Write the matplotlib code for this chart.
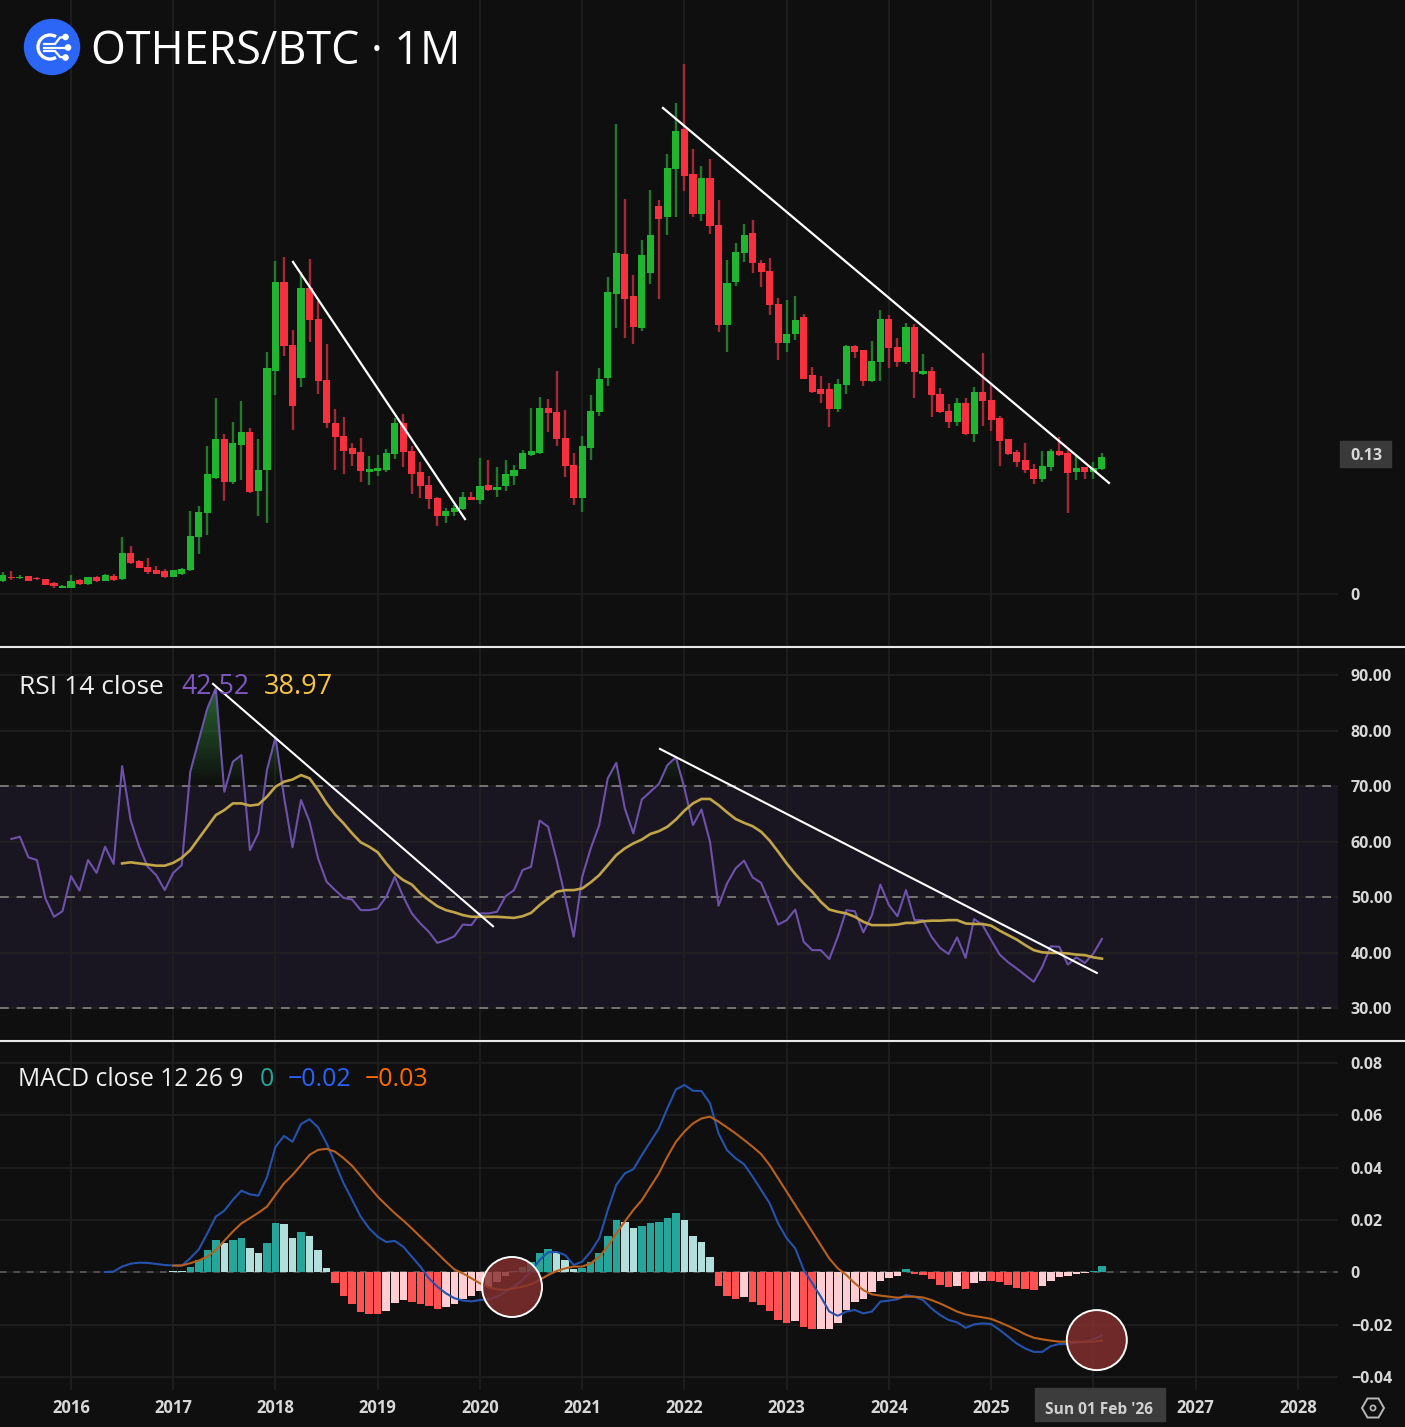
import numpy as np
import matplotlib
matplotlib.use("Agg")
import matplotlib.pyplot as plt
from matplotlib.patches import Circle, Ellipse, Rectangle, RegularPolygon, Arc
from matplotlib.path import Path

plt.rcParams['font.family'] = ['Open Sans', 'DejaVu Sans']

# months counted from Jan 2016, first candle is May 2015
month_idx = np.arange(-8, 122)

open_ = [.012,.016,.015,.017,.015,.014,.010,.006,
         .006,.013,.009,.016,.012,.017,.014,.038,.031,.025,.022,.021,
         .016,.019,.022,.053,.075,.108,.144,.104,.138,.150,.096,.115,
         .207,.290,.231,.201,.284,.255,.199,.159,.147,.136,.132,.113,
         .114,.115,.130,.159,.133,.113,.101,.089,.072,.076,.079,.090,
         .087,.101,.097,.100,.110,.116,.129,.131,.173,.169,.145,.120,
         .089,.136,.169,.201,.279,.316,.277,.247,.298,.360,.350,.395,
         .432,.390,.353,.386,.343,.250,.290,.317,.335,.307,.300,.269,
         .233,.241,.257,.203,.190,.190,.172,.194,.230,.227,.198,.215,
         .255,.229,.215,.248,.204,.207,.186,.170,.160,.177,.149,.188,
         .180,.163,.144,.132,.124,.116,.107,.118,.133,.131,.113,.118,
         .113,.116]
high = [.020,.021,.018,.017,.016,.014,.011,.008,
        .018,.014,.016,.017,.019,.019,.053,.045,.032,.033,.026,.023,
        .022,.024,.077,.082,.137,.182,.149,.160,.179,.154,.144,.225,
        .309,.313,.245,.299,.311,.272,.232,.172,.164,.140,.145,.128,
        .129,.135,.163,.167,.137,.123,.110,.090,.080,.083,.095,.095,
        .126,.124,.118,.124,.120,.134,.173,.183,.181,.207,.171,.131,
        .147,.185,.210,.294,.436,.367,.296,.329,.375,.366,.409,.456,
        .492,.413,.397,.404,.366,.310,.326,.344,.347,.310,.312,.275,
        .273,.277,.260,.211,.202,.196,.200,.231,.231,.227,.235,.264,
        .259,.238,.252,.251,.223,.211,.191,.176,.182,.182,.192,.224,
        .196,.165,.144,.134,.140,.121,.133,.135,.146,.134,.128,.118,
        .123,.131]
low = [.011,.013,.014,.012,.013,.008,.006,.006,
       .006,.008,.008,.011,.012,.012,.013,.028,.024,.019,.019,.015,
       .016,.018,.021,.037,.055,.107,.086,.102,.106,.094,.072,.066,
       .185,.221,.152,.192,.234,.186,.154,.115,.111,.119,.104,.101,
       .110,.113,.125,.118,.093,.089,.079,.063,.066,.072,.078,.087,
       .084,.096,.090,.096,.101,.116,.128,.130,.150,.137,.109,.083,
       .076,.124,.165,.193,.247,.238,.232,.244,.288,.274,.333,.350,
       .374,.350,.346,.334,.243,.225,.286,.308,.298,.285,.259,.217,
       .225,.236,.200,.187,.177,.155,.169,.186,.219,.193,.197,.198,
       .210,.211,.214,.182,.203,.164,.168,.154,.156,.148,.141,.156,
       .151,.119,.129,.118,.112,.102,.104,.114,.128,.075,.106,.107,
       .107,.115]
close = [.018,.015,.016,.012,.014,.008,.007,.007,
         .012,.009,.016,.012,.018,.013,.038,.029,.024,.020,.019,.016,
         .022,.023,.054,.076,.111,.144,.104,.140,.150,.095,.115,.210,
         .290,.230,.175,.284,.254,.198,.159,.146,.133,.130,.114,.116,
         .117,.131,.159,.132,.111,.100,.088,.072,.077,.080,.090,.087,
         .100,.097,.099,.111,.115,.131,.133,.173,.168,.144,.119,.089,
         .137,.170,.200,.280,.317,.274,.248,.315,.333,.348,.396,.430,
         .388,.353,.386,.342,.250,.289,.318,.333,.307,.299,.268,.233,
         .241,.254,.200,.188,.186,.172,.195,.230,.225,.198,.216,.255,
         .228,.215,.248,.206,.207,.185,.169,.160,.177,.149,.188,.179,
         .162,.142,.130,.123,.115,.107,.119,.133,.129,.112,.117,.113,
         .117,.127]

rsi_months = np.arange(-7, 122)
rsi = [60.5,60.9,57.2,56.7,49.8,46.5,47.5,
       53.8,51.2,56.7,54.4,59.1,56,73.6,63.9,59.1,55.5,54,51.3,
       54.4,55.8,72.6,78.3,84,87.6,69,74.4,75.6,58.5,61.6,72.9,
       78.8,68.1,59,67.5,63.6,57,52.8,51.3,49.9,49.6,47.7,47.7,
       48,50.1,53.7,50.1,47.1,45.3,43.8,41.8,42.3,43,45.1,45,
       47.1,47.1,47.4,50.2,51.3,54.9,55.5,63.8,62.7,56.7,50.1,42.9,
       53.7,58.8,63,71.4,74.2,66,61.5,67.6,69,70.4,73.8,75.2,
       69.6,63,65.8,60,48.5,52.5,55.2,56.6,53.6,52.6,48.9,45.1,
       45.9,47.8,42,40.5,40.5,38.9,42.9,47.7,47.5,43.7,46.8,52.3,
       48.6,46.6,51.3,45.9,45.9,42.9,40.9,39.8,42.8,39.1,46.1,45,
       42.3,39.7,38.3,37.2,36,34.8,37.5,41.2,41.1,37.9,39.2,38.2,
       39.9,42.52]
rsi_ma_months = np.arange(6, 122)
rsi_ma = [56.1,56.3,56.1,55.9,55.7,55.7,
          56.2,57.1,58.5,60.6,62.7,64.8,65.7,66.9,66.9,66.5,66.7,68.1,
          69.9,70.8,71.2,72,71.4,69.3,66.9,64.9,63.3,61.5,59.9,59.1,
          58.1,56.1,54.3,53.1,52.3,50.7,49.5,48.4,47.7,47.3,46.8,46.5,
          46.5,46.5,46.5,46.4,46.3,46.6,47.2,48.6,49.8,51,51.3,51.3,
          51.6,52.7,54,55.8,57.6,58.8,59.7,60.4,61.4,61.9,62.7,64,
          65.6,66.9,67.7,67.7,66.6,65.3,64.1,63.4,62.8,61.8,60.2,58.2,
          56.1,54.2,52.5,51,49.2,47.8,47.4,47.1,46.5,45.6,45,45,
          45,45.1,45.4,45.4,45.7,45.8,45.8,45.9,45.9,45.3,45.2,45.2,
          44.9,44,43.2,42.4,41.4,40.5,40.1,40,40,39.9,39.7,39.6,
          39.2,38.97]

macd_months = np.arange(4, 122)
macd = [.0001,.0003,.0022,.0033,.0037,.0036,.0032,.0028,
        .0026,.0026,.0054,.0088,.0149,.0213,.0236,.0277,.0312,.0298,.0293,.0363,
        .0480,.0521,.0499,.0567,.0585,.0554,.0493,.0417,.0340,.0277,.0213,.0168,
        .0136,.0116,.0120,.0098,.0060,.0022,-.0023,-.0055,-.0080,-.0099,-.0108,-.0111,
        -.0106,-.0103,-.0093,-.0074,-.0055,-.0029,.0003,.0047,.0077,.0078,.0066,.0028,
        .0041,.0079,.0130,.0238,.0334,.0378,.0394,.0448,.0499,.0550,.0627,.0699,
        .0716,.0694,.0693,.0646,.0531,.0467,.0436,.0413,.0366,.0315,.0264,.0187,
        .0130,.0092,.0009,-.0042,-.0093,-.0150,-.0166,-.0150,-.0144,-.0157,-.0150,-.0112,
        -.0108,-.0103,-.0087,-.0093,-.0106,-.0138,-.0163,-.0182,-.0191,-.0212,-.0199,-.0195,
        -.0198,-.0220,-.0246,-.0272,-.0291,-.0304,-.0304,-.0282,-.0274,-.0274,-.0269,-.0265,
        -.0256,-.0242]
signal_months = np.arange(12, 122)
signal = [.0026,.0026,.0035,.0045,.0060,.0085,.0121,.0156,.0187,.0207,.0228,.0251,
          .0296,.0340,.0372,.0410,.0449,.0468,.0472,.0461,.0436,.0407,.0368,.0328,
          .0289,.0257,.0226,.0198,.0168,.0136,.0105,.0073,.0041,.0011,-.0004,-.0023,
          -.0042,-.0057,-.0065,-.0067,-.0061,-.0055,-.0046,-.0029,-.0010,.0005,.0015,.0022,
          .0022,.0034,.0060,.0098,.0149,.0194,.0238,.0276,.0327,.0378,.0442,.0499,
          .0538,.0569,.0588,.0595,.0576,.0554,.0531,.0506,.0480,.0452,.0410,.0359,
          .0308,.0257,.0206,.0155,.0104,.0053,.0015,-.0010,-.0042,-.0068,-.0084,-.0089,
          -.0093,-.0097,-.0093,-.0093,-.0096,-.0106,-.0119,-.0134,-.0150,-.0161,-.0167,-.0172,
          -.0178,-.0191,-.0205,-.0220,-.0237,-.0250,-.0256,-.0261,-.0265,-.0265,-.0266,-.0265,
          -.0265,-.0261]
hist = [.0006,.0006,.0022,.0047,.0085,.0124,.0113,.0124,.0130,.0092,.0073,.0113,
        .0190,.0183,.0130,.0155,.0140,.0085,.0018,-.0042,-.0090,-.0122,-.0150,-.0159,
        -.0160,-.0148,-.0116,-.0106,-.0112,-.0121,-.0129,-.0139,-.0134,-.0122,-.0103,-.0089,
        -.0070,-.0055,-.0036,-.0014,.0006,.0022,.0041,.0073,.0088,.0076,.0047,.0013,
        .0015,.0041,.0073,.0139,.0200,.0194,.0168,.0178,.0187,.0194,.0209,.0225,
        .0200,.0140,.0115,.0060,-.0052,-.0090,-.0101,-.0096,-.0112,-.0125,-.0148,-.0182,
        -.0192,-.0186,-.0208,-.0218,-.0218,-.0218,-.0195,-.0144,-.0112,-.0102,-.0076,-.0032,
        -.0023,-.0014,.0011,-.0005,-.0010,-.0027,-.0048,-.0057,-.0052,-.0065,-.0042,-.0032,
        -.0033,-.0038,-.0048,-.0059,-.0065,-.0066,-.0052,-.0032,-.0017,-.0014,-.0008,-.0004,
        .0006,.0024]

year_labels = ['2016','2017','2018','2019','2020','2021','2022','2023','2024','2025','','2027','2028']
rsi_ticks = [90, 80, 70, 60, 50, 40, 30]
macd_ticks = [.08, .06, .04, .02, 0, -.02, -.04]
macd_tick_labels = ['0.08','0.06','0.04','0.02','0','\u22120.02','\u22120.04']

# hand drawn trend lines, (month, value) start and end
price_trends = [((26.06, .3083), (46.24, .0696)), ((69.48, .4513), (121.83, .1031))]
rsi_trends = [((16.67, 88.4), (49.53, 44.8)), ((69.13, 76.7), (120.4, 36.4))]
macd_circles = [(51.76, -.0056), (120.4, -.0259)]

# --- layout in pixels ---
W, H = 1405, 1427
PLOT_R = 1338
BG = '#0f0f0f'
GRID = '#212121'
TICK_C = '#d8d8d8'
GREEN, RED = '#20b52e', '#f7303f'
GREEN_W, RED_W = '#22792c', '#a32a35'
m_left = -71 / 8.52
m_right = (PLOT_R - 71) / 8.52


def panel(top, bottom):
    return fig.add_axes([0, 1 - bottom / H, PLOT_R / W, (bottom - top) / H])


fig = plt.figure(figsize=(W / 100, H / 100), dpi=100, facecolor=BG)
ax1 = panel(0, 646)
ax2 = panel(648, 1041)
ax3 = panel(1042, 1390)

year_pos = np.arange(0, 156, 12)
for ax in (ax1, ax2, ax3):
    ax.set_facecolor(BG)
    ax.set_xlim(m_left, m_right)
    for s in ax.spines.values():
        s.set_visible(False)
    ax.set_xticks(year_pos)
    ax.yaxis.tick_right()
    ax.tick_params(axis='y', length=0, pad=9.2, labelcolor=TICK_C, labelsize=11.5)
    ax.tick_params(axis='x', length=0)
    ax.set_axisbelow(True)
    ax.grid(True, color=GRID, lw=1.1)
ax1.tick_params(labelbottom=False)
ax2.tick_params(labelbottom=False)

# --- candles ---
ax1.set_ylim(-52 / 1077, 594 / 1077)
ax1.set_yticks([0], ['0'], fontweight='bold')
o, h, l, c = map(np.array, (open_, high, low, close))
up = c >= o
ax1.vlines(month_idx[up], l[up], h[up], color=GREEN_W, lw=1.7, zorder=2)
ax1.vlines(month_idx[~up], l[~up], h[~up], color=RED_W, lw=1.7, zorder=2)
ax1.bar(month_idx, np.abs(c - o), bottom=np.minimum(o, c), width=0.84,
        color=[GREEN if u else RED for u in up], zorder=3)
for a, b in price_trends:
    ax1.plot([a[0], b[0]], [a[1], b[1]], color='white', lw=1.6, zorder=5)

# --- RSI ---
ax2.set_ylim(30 - (1041 - 1008.5) / 5.558, 90 + (675 - 648) / 5.558)
ax2.set_yticks(rsi_ticks, [f'{v:.2f}' for v in rsi_ticks], fontweight='bold')
ax2.axhspan(30, 70, color='#191622', zorder=0.5, lw=0)
for lvl in (70, 50, 30):
    ax2.axhline(lvl, color='#757575', lw=1.4, dashes=(4.5, 4), zorder=1.5)

rsi_arr = np.array(rsi)
over = ax2.fill_between(rsi_months, 70, rsi_arr, where=rsi_arr > 70, interpolate=True,
                        facecolor='none', edgecolor='none')
grad = np.zeros((64, 1, 4))
grad[..., :3] = matplotlib.colors.to_rgb('#2f8a3c')
grad[..., 3] = np.linspace(0, .72, 64)[:, None]
im = ax2.imshow(grad, extent=[m_left, m_right, 70, 88], origin='lower', aspect='auto', zorder=2)
im.set_clip_path(Path.make_compound_path(*over.get_paths()), transform=ax2.transData)
ax2.set_xlim(m_left, m_right)
ax2.set_ylim(30 - (1041 - 1008.5) / 5.558, 90 + (675 - 648) / 5.558)

ax2.plot(rsi_months, rsi, color='#6c52ab', lw=1.5, zorder=3)
ax2.plot(rsi_ma_months, rsi_ma, color='#c2a548', lw=1.9, zorder=4)
for a, b in rsi_trends:
    ax2.plot([a[0], b[0]], [a[1], b[1]], color='white', lw=1.5, zorder=5)

# --- MACD ---
ax3.set_ylim(-.04 - (1390 - 1377) / 2616, .08 + (1063 - 1042) / 2616)
ax3.set_yticks(macd_ticks, macd_tick_labels, fontweight='bold')
ax3.set_xticks(year_pos, year_labels, fontweight='bold', fontsize=12, color=TICK_C)
ax3.tick_params(axis='x', pad=6.5)
ax3.axhline(0, color='#5a5a5a', lw=1.2, dashes=(4, 4), zorder=1.5)

bar_colors = []
prev = None
for v in hist:
    if v >= 0:
        bar_colors.append('#26a69a' if prev is not None and v > prev else '#b2dfdb')
    else:
        bar_colors.append('#ff5252' if prev is not None and v < prev else '#ffcdd2')
    prev = v
ax3.bar(signal_months, hist, width=0.88, color=bar_colors, zorder=2)
ax3.plot(macd_months, macd, color='#2452ad', lw=1.5, zorder=3)
ax3.plot(signal_months, signal, color='#b9601d', lw=1.5, zorder=4)
for cx, cy in macd_circles:
    ax3.add_patch(Ellipse((cx, cy), 60 / 8.52, 60 / 2616, facecolor=(0.52, 0.19, 0.19, 0.82),
                          edgecolor='white', lw=1.4, zorder=6))

# --- overlay in pixel coordinates: separators, title, legends, boxes ---
ov = fig.add_axes([0, 0, 1, 1], zorder=10)
ov.set_xlim(0, W)
ov.set_ylim(H, 0)
ov.axis('off')
ov.patch.set_alpha(0)

ov.plot([0, W], [647, 647], color='#e8e8e8', lw=1.5)
ov.plot([0, W], [1041, 1041], color='#e8e8e8', lw=1.5)

# logo
ov.add_patch(Circle((52, 47), 27.5, color='#2b66f6'))
ov.add_patch(Arc((50, 47), 24, 24, theta1=60, theta2=300, color='white', lw=2.4))
for pts in ([(44, 44), (55, 44), (60, 37.5), (65.5, 37)],
            [(44, 47.5), (68, 47.5)],
            [(44, 51), (55, 51), (60, 57), (65.5, 57.5)]):
    ov.plot(*zip(*pts), color='white', lw=1.6)
for p in ((65.5, 37), (68, 47.5), (65.5, 57.5)):
    ov.add_patch(Circle(p, 2.6, color='white'))

ov.text(91, 52, 'OTHERS/BTC \u00b7 1M', color='white', fontsize=32.3, fontweight='medium', va='center', ha='left')

ov.text(19, 687, 'RSI 14 close', color='#f0f0f0', fontsize=19, va='center')
ov.text(181, 687, '42.52', color='#7e57c2', fontsize=19.2, va='center')
ov.text(264, 687, '38.97', color='#f5c443', fontsize=19.5, va='center')

ov.text(18, 1079, 'MACD close 12 26 9', color='#f0f0f0', fontsize=17.7, va='center')
ov.text(260, 1079, '0', color='#26a69a', fontsize=18, va='center')
ov.text(288, 1079, '\u22120.02', color='#2962ff', fontsize=18, va='center')
ov.text(365, 1079, '\u22120.03', color='#ff6d00', fontsize=18, va='center')

# last price tag
ov.add_patch(Rectangle((1340, 441), 51, 26, color='#3a3a3a'))
ov.text(1366, 456, '0.13', color=TICK_C, fontsize=11.5, fontweight='bold', ha='center', va='center')

# crosshair date
ov.add_patch(Rectangle((1035, 1388), 130, 33, color='#3c3c3c'))
ov.text(1099, 1410, "Sun 01 Feb '26", color='#d0d0d0', fontsize=11.2, fontweight='bold', ha='center', va='center')

# settings icon
ov.add_patch(RegularPolygon((1373, 1408), 6, radius=11, orientation=np.pi / 2, fill=False, edgecolor='#b8b8b8', lw=1.4))
ov.add_patch(Circle((1373, 1408), 2.6, fill=False, edgecolor='#b8b8b8', lw=1.2))

fig.savefig('out.png', dpi=100, facecolor=BG)
